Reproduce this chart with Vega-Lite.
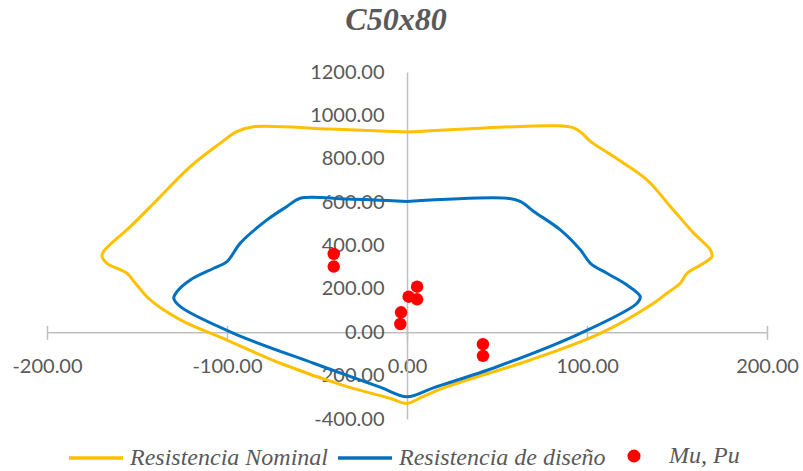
{
  "$schema": "https://vega.github.io/schema/vega-lite/v6.json",
  "width": 720,
  "height": 347,
  "autosize": {"type": "none"},
  "padding": {"left": 47, "top": 72, "right": 36, "bottom": 52},
  "background": "white",
  "config": {"view": {"stroke": null}, "axis": {"grid": false}},
  "title": {"text": "C50x80", "font": "Liberation Serif", "fontSize": 32, "fontStyle": "italic", "fontWeight": "bold", "color": "#595959", "anchor": "middle", "frame": "group", "dx": -11, "baseline": "alphabetic", "offset": 0},
  "datasets": {
    "curves": [
      {"s": "Resistencia Nominal", "i": 1, "M": 0, "P": 923},
      {"s": "Resistencia Nominal", "i": 2, "M": 40.7, "P": 941},
      {"s": "Resistencia Nominal", "i": 3, "M": 83.3, "P": 952},
      {"s": "Resistencia Nominal", "i": 4, "M": 92.6, "P": 942},
      {"s": "Resistencia Nominal", "i": 5, "M": 97.2, "P": 918},
      {"s": "Resistencia Nominal", "i": 6, "M": 101.9, "P": 880},
      {"s": "Resistencia Nominal", "i": 7, "M": 114.8, "P": 810},
      {"s": "Resistencia Nominal", "i": 8, "M": 133.3, "P": 703},
      {"s": "Resistencia Nominal", "i": 9, "M": 146.3, "P": 580},
      {"s": "Resistencia Nominal", "i": 10, "M": 159.3, "P": 457},
      {"s": "Resistencia Nominal", "i": 11, "M": 168.5, "P": 380},
      {"s": "Resistencia Nominal", "i": 12, "M": 169.4, "P": 349},
      {"s": "Resistencia Nominal", "i": 13, "M": 164.8, "P": 318},
      {"s": "Resistencia Nominal", "i": 14, "M": 155.6, "P": 272},
      {"s": "Resistencia Nominal", "i": 15, "M": 151.8, "P": 226},
      {"s": "Resistencia Nominal", "i": 16, "M": 144.4, "P": 180},
      {"s": "Resistencia Nominal", "i": 17, "M": 137, "P": 134},
      {"s": "Resistencia Nominal", "i": 18, "M": 107.4, "P": -5},
      {"s": "Resistencia Nominal", "i": 19, "M": 68.5, "P": -128},
      {"s": "Resistencia Nominal", "i": 20, "M": 22.2, "P": -251},
      {"s": "Resistencia Nominal", "i": 21, "M": 8, "P": -300},
      {"s": "Resistencia Nominal", "i": 22, "M": 0, "P": -328},
      {"s": "Resistencia Nominal", "i": 23, "M": -10, "P": -303},
      {"s": "Resistencia Nominal", "i": 24, "M": -33.3, "P": -251},
      {"s": "Resistencia Nominal", "i": 25, "M": -70.4, "P": -143},
      {"s": "Resistencia Nominal", "i": 26, "M": -100, "P": -36},
      {"s": "Resistencia Nominal", "i": 27, "M": -125.9, "P": 57},
      {"s": "Resistencia Nominal", "i": 28, "M": -142.6, "P": 149},
      {"s": "Resistencia Nominal", "i": 29, "M": -150.9, "P": 226},
      {"s": "Resistencia Nominal", "i": 30, "M": -155.6, "P": 272},
      {"s": "Resistencia Nominal", "i": 31, "M": -166.7, "P": 318},
      {"s": "Resistencia Nominal", "i": 32, "M": -169.4, "P": 349},
      {"s": "Resistencia Nominal", "i": 33, "M": -168.6, "P": 372},
      {"s": "Resistencia Nominal", "i": 34, "M": -153.7, "P": 487},
      {"s": "Resistencia Nominal", "i": 35, "M": -138.9, "P": 610},
      {"s": "Resistencia Nominal", "i": 36, "M": -120.4, "P": 764},
      {"s": "Resistencia Nominal", "i": 37, "M": -103.7, "P": 872},
      {"s": "Resistencia Nominal", "i": 38, "M": -94.4, "P": 926},
      {"s": "Resistencia Nominal", "i": 39, "M": -85.2, "P": 948},
      {"s": "Resistencia Nominal", "i": 40, "M": -42.6, "P": 937},
      {"s": "Resistencia Nominal", "i": 41, "M": 0, "P": 923},
      {"s": "Resistencia de diseño", "i": 1, "M": 0, "P": 603},
      {"s": "Resistencia de diseño", "i": 2, "M": 55.6, "P": 618},
      {"s": "Resistencia de diseño", "i": 3, "M": 62.9, "P": 603},
      {"s": "Resistencia de diseño", "i": 4, "M": 70.4, "P": 557},
      {"s": "Resistencia de diseño", "i": 5, "M": 85.2, "P": 472},
      {"s": "Resistencia de diseño", "i": 6, "M": 96.3, "P": 380},
      {"s": "Resistencia de diseño", "i": 7, "M": 101.9, "P": 318},
      {"s": "Resistencia de diseño", "i": 8, "M": 111.1, "P": 272},
      {"s": "Resistencia de diseño", "i": 9, "M": 122.2, "P": 218},
      {"s": "Resistencia de diseño", "i": 10, "M": 129.6, "P": 164},
      {"s": "Resistencia de diseño", "i": 11, "M": 127.8, "P": 134},
      {"s": "Resistencia de diseño", "i": 12, "M": 96.3, "P": -5},
      {"s": "Resistencia de diseño", "i": 13, "M": 50, "P": -159},
      {"s": "Resistencia de diseño", "i": 14, "M": 15, "P": -255},
      {"s": "Resistencia de diseño", "i": 15, "M": 0, "P": -297},
      {"s": "Resistencia de diseño", "i": 16, "M": -15, "P": -253},
      {"s": "Resistencia de diseño", "i": 17, "M": -51.9, "P": -143},
      {"s": "Resistencia de diseño", "i": 18, "M": -96.3, "P": -5},
      {"s": "Resistencia de diseño", "i": 19, "M": -125.9, "P": 118},
      {"s": "Resistencia de diseño", "i": 20, "M": -129.6, "P": 157},
      {"s": "Resistencia de diseño", "i": 21, "M": -127.8, "P": 187},
      {"s": "Resistencia de diseño", "i": 22, "M": -120.4, "P": 241},
      {"s": "Resistencia de diseño", "i": 23, "M": -107.4, "P": 295},
      {"s": "Resistencia de diseño", "i": 24, "M": -100, "P": 326},
      {"s": "Resistencia de diseño", "i": 25, "M": -92.6, "P": 411},
      {"s": "Resistencia de diseño", "i": 26, "M": -77.8, "P": 518},
      {"s": "Resistencia de diseño", "i": 27, "M": -66.7, "P": 580},
      {"s": "Resistencia de diseño", "i": 28, "M": -59.3, "P": 618},
      {"s": "Resistencia de diseño", "i": 29, "M": -33.3, "P": 614},
      {"s": "Resistencia de diseño", "i": 30, "M": 0, "P": 603}
    ],
    "pts": [
      {"s": "Mu, Pu", "M": -40.7, "P": 361},
      {"s": "Mu, Pu", "M": -40.7, "P": 303},
      {"s": "Mu, Pu", "M": 5.6, "P": 210},
      {"s": "Mu, Pu", "M": 0.9, "P": 164},
      {"s": "Mu, Pu", "M": 5.6, "P": 152},
      {"s": "Mu, Pu", "M": -3.3, "P": 92},
      {"s": "Mu, Pu", "M": -3.7, "P": 38},
      {"s": "Mu, Pu", "M": 42.2, "P": -55},
      {"s": "Mu, Pu", "M": 42.2, "P": -109}
    ]
  },
  "resolve": {"axis": {"x": "independent"}},
  "layer": [
    {
      "data": {"name": "curves"},
      "mark": {"type": "line", "strokeWidth": 3, "strokeJoin": "round", "strokeCap": "round", "interpolate": "catmull-rom"},
      "encoding": {
        "x": {"field": "M", "type": "quantitative", "scale": {"domain": [-200, 200], "nice": false, "zero": false},
          "axis": {"orient": "bottom", "offset": -86.7, "values": [-200, -100, 0, 100, 200], "labelExpr": "(datum.value < 0 ? '-' : '') + format(abs(datum.value), '.2f')", "title": null,
            "domainColor": "#BFBFBF", "domainWidth": 1.5, "tickColor": "#BFBFBF", "tickWidth": 1.5, "tickSize": 7,
            "labelFont": "Lato", "labelFontSize": 20, "labelColor": "#595959", "labelPadding": 17, "labelFlush": false, "labelOverlap": false}},
        "y": {"field": "P", "type": "quantitative", "scale": {"domain": [-400, 1200], "nice": false, "zero": false},
          "axis": {"orient": "left", "offset": -360, "values": [-400, -200, 0, 200, 400, 600, 800, 1000, 1200], "labelExpr": "(datum.value < 0 ? '-' : '') + format(abs(datum.value), '.2f')", "title": null,
            "domainColor": "#BFBFBF", "domainWidth": 1.5, "ticks": false,
            "labelFont": "Lato", "labelFontSize": 20, "labelColor": "#595959", "labelPadding": 23, "labelFlush": false, "labelOverlap": false}},
        "color": {"field": "s", "type": "nominal",
          "scale": {"domain": ["Resistencia Nominal", "Resistencia de diseño"], "range": ["#FFC000", "#0070C0"]},
          "legend": {"title": null, "orient": "none", "legendX": 20, "legendY": 357, "direction": "horizontal",
            "symbolType": "stroke", "symbolSize": 2916, "symbolStrokeWidth": 3.5,
            "labelFont": "Liberation Serif", "labelFontStyle": "italic", "labelFontSize": 24, "labelColor": "#595959",
            "labelOffset": 5, "columnPadding": 3, "labelLimit": 0, "padding": 0}},
        "order": {"field": "i", "type": "quantitative"}
      }
    },
    {
      "data": {"name": "pts"},
      "mark": {"type": "point", "filled": true, "size": 155, "color": "#FF0000", "opacity": 1},
      "encoding": {
        "x": {"field": "M", "type": "quantitative",
          "axis": {"orient": "bottom", "offset": -86.7, "values": [-200, -100, 0, 100, 200], "title": null,
            "domain": false, "labels": false, "tickColor": "#BFBFBF", "tickWidth": 1.5, "tickSize": -7}},
        "y": {"field": "P", "type": "quantitative"},
        "shape": {"field": "s", "type": "nominal", "scale": {"range": ["circle"]},
          "legend": {"title": null, "orient": "none", "legendX": 575, "legendY": 372, "direction": "horizontal",
            "symbolSize": 170, "symbolFillColor": "#FF0000", "symbolStrokeColor": "#FF0000", "symbolOpacity": 1,
            "labelFont": "Liberation Serif", "labelFontStyle": "italic", "labelFontSize": 24, "labelColor": "#595959",
            "labelOffset": 23, "labelLimit": 0, "padding": 0}}
      }
    }
  ]
}
